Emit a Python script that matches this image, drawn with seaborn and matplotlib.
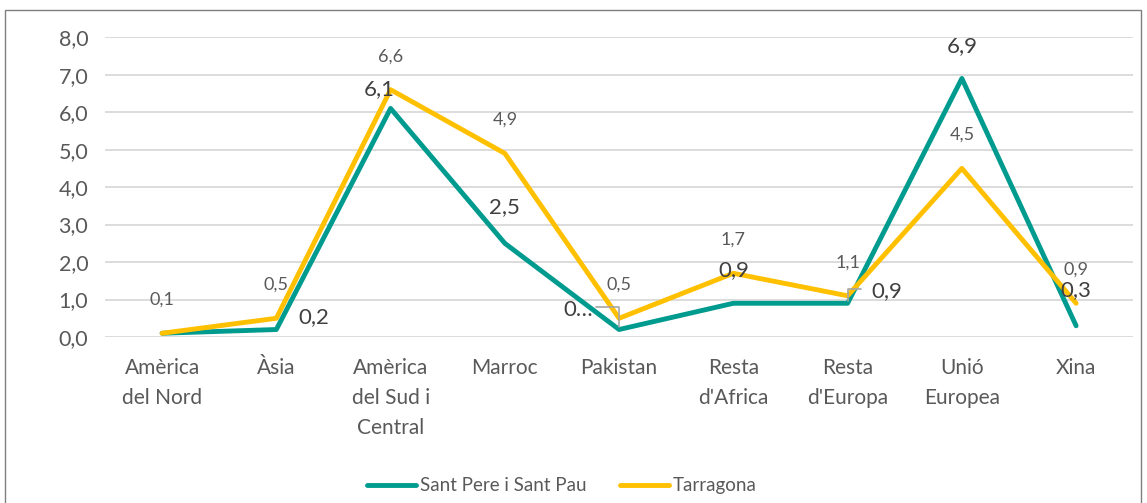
import matplotlib
matplotlib.use("Agg")
import matplotlib.pyplot as plt
import seaborn as sns
import pandas as pd

categories = ["Amèrica\ndel Nord", "Àsia", "Amèrica\ndel Sud i\nCentral", "Marroc", "Pakistan",
              "Resta\nd'Africa", "Resta\nd'Europa", "Unió\nEuropea", "Xina"]
sant_pere = [0.1, 0.2, 6.1, 2.5, 0.2, 0.9, 0.9, 6.9, 0.3]
tarragona = [0.1, 0.5, 6.6, 4.9, 0.5, 1.7, 1.1, 4.5, 0.9]
series_names = ["Sant Pere i Sant Pau", "Tarragona"]
yticks = [0, 1, 2, 3, 4, 5, 6, 7, 8]

teal = "#009B8F"
gold = "#FFC000"
txt = "#595959"

sns.set_style("white")
plt.rcParams["font.family"] = ["Lato", "DejaVu Sans"]

df = pd.DataFrame({
    "pos": list(range(len(categories))) * 2,
    "valor": sant_pere + tarragona,
    "serie": [series_names[0]] * len(categories) + [series_names[1]] * len(categories),
})

fig = plt.figure(figsize=(11.47, 5.03), dpi=100)
ax = fig.add_axes([0.0915, 0.33, 0.8965, 0.596])

sns.lineplot(data=df, x="pos", y="valor", hue="serie", palette=[teal, gold],
             linewidth=3.5, ax=ax, legend=True, sort=False)

ax.set_xlim(-0.5, len(categories) - 0.5)
ax.set_ylim(0, 8)
ax.set_yticks(yticks)
ax.set_yticklabels([f"{v:.1f}".replace(".", ",") for v in yticks], fontsize=15.5, color=txt)
ax.set_xticks(range(len(categories)))
ax.set_xticklabels(categories, fontsize=15, color=txt, linespacing=1.62, va="top")
ax.tick_params(axis="x", length=0, pad=15)
ax.tick_params(axis="y", length=0, pad=12)
ax.grid(axis="y", color="#D9D9D9", linewidth=1.3)
ax.set_axisbelow(True)
for s in ax.spines.values():
    s.set_visible(False)
ax.set_xlabel("")
ax.set_ylabel("")

def fmt(v):
    return f"{v:.1f}".replace(".", ",")

# Tarragona labels (small, above)
for i, v in enumerate(tarragona):
    ax.annotate(fmt(v), (i, v), xytext=(0, 24), textcoords="offset points",
                ha="center", va="center", fontsize=13, color=txt)

# Sant Pere labels: (offset x, offset y, ha)
teal_pos = [None, (16, 9, "left"), (-8, 14, "center"), (0, 26, "center"), (-19, 14, "right"),
            (0, 24, "center"), (17, 9, "left"), (0, 23, "center"), (0, 26, "center")]
for i, v in enumerate(sant_pere):
    p = teal_pos[i]
    if p is None:
        continue
    label = "0…" if i == 4 else fmt(v)
    ax.annotate(label, (i, v), xytext=(p[0], p[1]), textcoords="offset points",
                ha=p[2], va="center", fontsize=16, color="#404040")

# leader lines
for i, dx, dy in [(4, -16.5, 16), (6, 9.5, 10)]:
    ax.annotate("", (i, sant_pere[i]), xytext=(dx, dy), textcoords="offset points",
                arrowprops=dict(arrowstyle="-", color="#A6A6A6", lw=1.2,
                                connectionstyle="angle,angleA=0,angleB=90,rad=0",
                                shrinkA=0, shrinkB=2))

handles, labels = ax.get_legend_handles_labels()
ax.legend(handles, labels, loc="center", bbox_to_anchor=(0.49, 0.034),
          bbox_transform=fig.transFigure, ncol=2, frameon=False, fontsize=13.5,
          handlelength=2.6, handletextpad=0.2, columnspacing=1.8, labelcolor=txt)

fig.patches.append(plt.Rectangle((0.004, -0.02), 0.991, 1.0, transform=fig.transFigure,
                                 fill=False, edgecolor="#7F7F7F", linewidth=1))

fig.savefig("out.png", dpi=100)
